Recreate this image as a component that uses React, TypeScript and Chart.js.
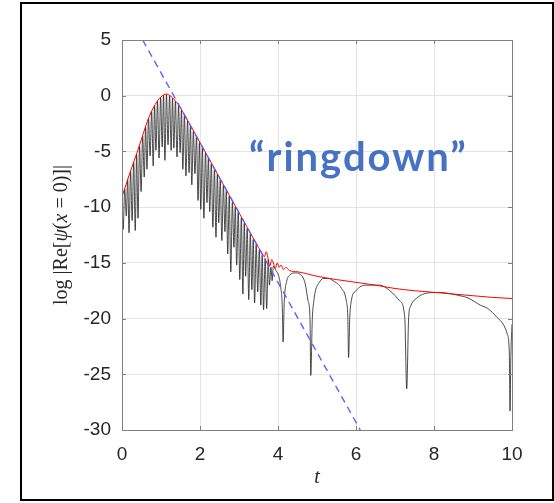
import React, { useEffect, useRef } from "react";
import { Chart, registerables } from "chart.js";

Chart.register(...registerables);

// ---- axes ----
const X_MIN = 0;
const X_MAX = 10;
const X_STEP = 2;
const Y_MIN = -30;
const Y_MAX = 5;
const Y_STEP = 5;

// ---- black curve: log|Re psi(x=0)| (tops and dips) ----
const blackT = [
  0.0, 0.03, 0.07, 0.11, 0.145, 0.18, 0.22, 0.26, 0.3, 0.34, 0.375, 0.41, 0.45, 0.49, 0.53, 0.57,
  0.605, 0.64, 0.68, 0.72, 0.76, 0.8, 0.835, 0.87, 0.91, 0.95, 0.99, 1.03, 1.065, 1.1, 1.14, 1.18,
  1.22, 1.26, 1.295, 1.33, 1.37, 1.41, 1.45, 1.49, 1.525, 1.56, 1.6, 1.64, 1.68, 1.72, 1.755, 1.79,
  1.83, 1.87, 1.91, 1.95, 1.985, 2.02, 2.06, 2.1, 2.14, 2.18, 2.215, 2.25, 2.29, 2.33, 2.37, 2.41,
  2.445, 2.48, 2.52, 2.56, 2.6, 2.64, 2.675, 2.71, 2.75, 2.79, 2.83, 2.87, 2.905, 2.94, 2.98, 3.02,
  3.06, 3.1, 3.135, 3.17, 3.21, 3.25, 3.29, 3.33, 3.365, 3.4, 3.44, 3.48, 3.52, 3.56, 3.595, 3.63,
  3.67, 3.71, 3.75, 3.78, 3.82, 3.85, 3.88, 3.95, 4.02, 4.07, 4.11, 4.13, 4.16, 4.22, 4.3, 4.45,
  4.56, 4.7, 4.77, 4.82, 4.84, 4.88, 4.92, 4.96, 5.05, 5.16, 5.3, 5.41, 5.63, 5.75, 5.79, 5.81,
  5.84, 5.88, 6.0, 6.26, 6.6, 6.87, 7.12, 7.25, 7.3, 7.35, 7.4, 7.58, 7.84, 8.1, 8.3, 8.6,
  8.87, 9.19, 9.38, 9.62, 9.79, 9.88, 9.93, 9.95, 9.97, 10.0,
];
const blackV = [
  -9.1, -12.0, -8.35, -10.8, -7.5, -12.3, -6.8, -11.2, -6.0, -12.1, -5.25, -11.0, -4.5, -8.6, -3.6, -7.3,
  -2.8, -6.6, -2.05, -5.4, -1.4, -6.3, -0.9, -4.9, -0.5, -5.6, -0.15, -4.6, 0.05, -5.8, 0.1, -4.4,
  0.0, -4.9, -0.25, -4.7, -0.5, -5.5, -0.9, -5.1, -1.3, -6.6, -1.75, -7.2, -2.25, -6.9, -2.7, -8.0,
  -3.2, -7.0, -3.7, -9.4, -4.2, -10.2, -4.65, -11.0, -5.15, -9.6, -5.6, -10.4, -6.1, -11.8, -6.6, -12.7,
  -7.05, -11.4, -7.55, -13.0, -8.05, -12.2, -8.5, -14.2, -9.0, -15.8, -9.5, -13.6, -10.0, -15.2, -10.45, -16.5,
  -10.95, -17.8, -11.45, -16.2, -11.9, -18.3, -12.4, -17.4, -12.9, -18.6, -13.35, -17.6, -13.85, -18.8, -14.3, -19.2,
  -14.6, -19.1, -14.7, -17.0, -15.4, -16.6, -15.3, -15.7, -16.2, -17.2, -19.0, -22.1, -18.5, -16.7, -16.1, -15.9,
  -16.0, -16.9, -18.4, -19.9, -25.1, -20.0, -18.4, -17.5, -16.8, -16.4, -16.4, -16.6, -17.3, -18.4, -19.9, -23.5,
  -19.9, -18.4, -17.5, -17.0, -17.0, -17.5, -18.4, -19.9, -26.3, -19.9, -18.9, -18.1, -17.7, -17.65, -17.7, -17.9,
  -18.15, -18.8, -19.1, -19.9, -20.6, -21.4, -23.0, -28.3, -23.5, -20.5,
];

// ---- red envelope ----
const envT = [
  0.0, 0.1, 0.2, 0.3, 0.4, 0.5, 0.6, 0.7, 0.8, 0.9, 1.0, 1.1, 1.15, 1.2, 1.3, 1.4, 1.5, 1.6, 2.0, 2.5,
  3.0, 3.4, 3.6, 3.65, 3.7, 3.74, 3.79, 3.84, 3.88, 3.93, 3.98, 4.03, 4.08, 4.14, 4.2, 4.3, 4.5, 5.0,
  5.5, 6.0, 6.5, 7.0, 7.5, 8.0, 8.5, 9.0, 9.5, 10.0,
];
const envV = [
  -9.05, -8.0, -6.95, -5.95, -4.95, -3.9, -2.8, -1.85, -1.1, -0.5, -0.1, 0.12, 0.15, 0.08, -0.2, -0.6, -1.1, -1.7, -4.2, -7.35,
  -10.5, -13.0, -14.2, -14.45, -14.0, -14.5, -15.3, -14.7, -15.0, -15.5, -15.0, -15.4, -15.2, -15.6, -15.4, -15.7, -15.8, -16.2,
  -16.5, -16.75, -17.0, -17.3, -17.5, -17.65, -17.8, -17.95, -18.1, -18.2,
];

// ---- blue dashed exponential-decay fit ----
const fitT = [0.53, 6.11];
const fitV = [5, -30];

// ---- texts ----
const Y_TITLE_PARTS: [string, boolean][] = [
  ["log ", false],
  ["|Re[", false],
  ["ψ", true],
  ["(", false],
  ["x", true],
  [" = 0)]|", false],
];
const X_TITLE = "t";
const ANNOTATION = "“ringdown”";

const toPts = (t: number[], v: number[]) => t.map((x, i) => ({ x, y: v[i] }));

const TICK_FONT = '"Liberation Sans", Arial, Helvetica, sans-serif';
const SERIF = '"Liberation Serif", "Times New Roman", serif';

const decorPlugin = {
  id: "decor",
  afterDatasetsDraw(chart: any) {
    const { ctx, chartArea: a, scales } = chart;
    const xs = scales.x;
    const ys = scales.y;
    ctx.save();
    // axes box
    ctx.setLineDash([]);
    ctx.strokeStyle = "#808080";
    ctx.lineWidth = 1;
    ctx.strokeRect(a.left + 0.5, a.top + 0.5, a.right - a.left, a.bottom - a.top);
    // inward ticks on all four sides
    const TL = 4;
    ctx.beginPath();
    for (let v = X_MIN; v <= X_MAX; v += X_STEP) {
      const px = Math.round(xs.getPixelForValue(v)) + 0.5;
      ctx.moveTo(px, a.bottom);
      ctx.lineTo(px, a.bottom - TL);
      ctx.moveTo(px, a.top);
      ctx.lineTo(px, a.top + TL);
    }
    for (let v = Y_MIN; v <= Y_MAX; v += Y_STEP) {
      const py = Math.round(ys.getPixelForValue(v)) + 0.5;
      ctx.moveTo(a.left, py);
      ctx.lineTo(a.left + TL, py);
      ctx.moveTo(a.right, py);
      ctx.lineTo(a.right - TL, py);
    }
    ctx.stroke();

    // x title
    ctx.fillStyle = "#262626";
    ctx.font = `italic 20px ${SERIF}`;
    ctx.textAlign = "center";
    ctx.textBaseline = "middle";
    ctx.fillText(X_TITLE, (a.left + a.right) / 2, 478);

    // y title (mixed upright / italic)
    ctx.save();
    ctx.translate(62, (a.top + a.bottom) / 2);
    ctx.rotate(-Math.PI / 2);
    ctx.textAlign = "left";
    ctx.textBaseline = "middle";
    let total = 0;
    const widths = Y_TITLE_PARTS.map(([s, it]) => {
      ctx.font = `${it ? "italic " : ""}20px ${SERIF}`;
      const w = ctx.measureText(s).width;
      total += w;
      return w;
    });
    let cx = -total / 2;
    Y_TITLE_PARTS.forEach(([s, it], i) => {
      ctx.font = `${it ? "italic " : ""}20px ${SERIF}`;
      ctx.fillText(s, cx, 0);
      cx += widths[i];
    });
    ctx.restore();

    // annotation
    ctx.fillStyle = "#4672c4";
    ctx.font = `bold 40px Lato, "Open Sans", sans-serif`;
    try {
      (ctx as any).letterSpacing = "2px";
    } catch (e) {}
    ctx.textAlign = "left";
    ctx.textBaseline = "alphabetic";
    ctx.fillText(ANNOTATION, 249, 171);
    ctx.restore();
  },
};

export default function App() {
  const ref = useRef<HTMLCanvasElement>(null);
  useEffect(() => {
    if (!ref.current) return;
    const chart = new Chart(ref.current, {
      type: "line",
      data: {
        datasets: [
          {
            data: toPts(blackT, blackV),
            borderColor: "#1e1e1e",
            borderWidth: 0.8,
            pointRadius: 0,
            cubicInterpolationMode: "monotone",
            order: 3,
          },
          {
            data: toPts(envT, envV),
            borderColor: "#ff0000",
            borderWidth: 1,
            pointRadius: 0,
            cubicInterpolationMode: "monotone",
            order: 2,
          },
          {
            data: toPts(fitT, fitV),
            borderColor: "#6060ff",
            borderWidth: 1.4,
            borderDash: [7, 5],
            pointRadius: 0,
            tension: 0,
            order: 1,
          },
        ],
      },
      options: {
        responsive: false,
        animation: false,
        devicePixelRatio: 1,
        parsing: false,
        layout: { padding: { left: 0, right: 42, top: 40, bottom: 0 } },
        plugins: { legend: { display: false }, tooltip: { enabled: false } },
        scales: {
          x: {
            type: "linear",
            min: X_MIN,
            max: X_MAX,
            ticks: {
              stepSize: X_STEP,
              color: "#262626",
              padding: 13,
              font: { family: TICK_FONT, size: 19 },
            },
            grid: { color: "#e4e4e4", drawTicks: false },
            border: { display: false },
            afterFit: (s: any) => {
              s.height = 73;
            },
          },
          y: {
            type: "linear",
            min: Y_MIN,
            max: Y_MAX,
            ticks: {
              stepSize: Y_STEP,
              color: "#262626",
              padding: 11,
              font: { family: TICK_FONT, size: 19 },
            },
            grid: { color: "#e4e4e4", drawTicks: false },
            border: { display: false },
            afterFit: (s: any) => {
              s.width = 122;
            },
          },
        },
      },
      plugins: [decorPlugin],
    } as any);
    return () => chart.destroy();
  }, []);

  return (
    <div style={{ position: "fixed", left: 0, top: 0, width: 554, height: 503, background: "#fff" }}>
      <canvas ref={ref} width={554} height={503} style={{ position: "absolute", left: 0, top: 0, width: 554, height: 503 }} />
      <div
        style={{
          position: "absolute",
          left: 20,
          top: 2,
          width: 534,
          height: 499,
          border: "2px solid #000",
          boxSizing: "border-box",
          pointerEvents: "none",
        }}
      />
    </div>
  );
}
